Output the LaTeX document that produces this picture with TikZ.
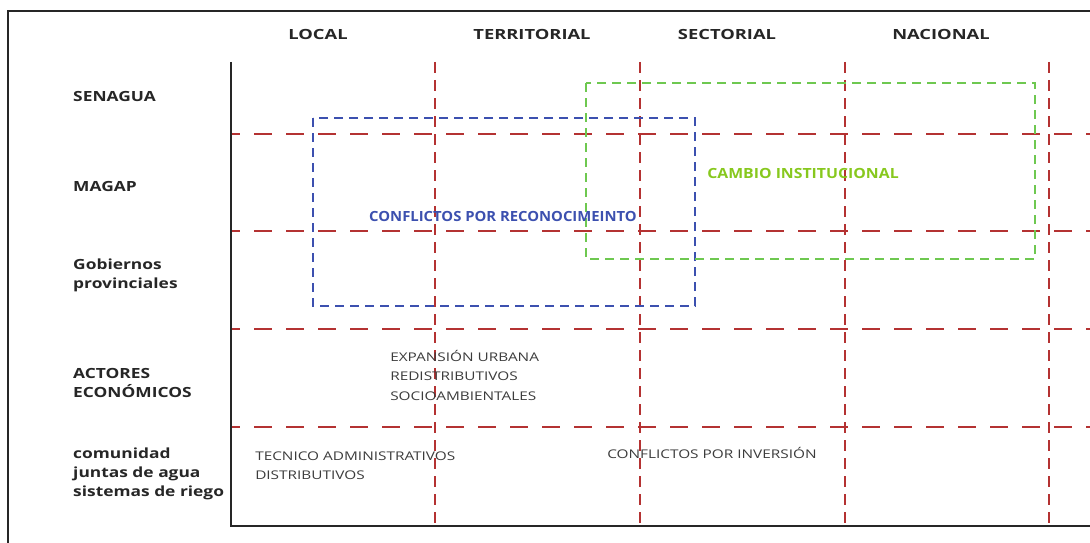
\documentclass[tikz,border=0pt]{standalone}
\usepackage{fontspec}
\setmainfont{Open Sans}
\definecolor{gridred}{RGB}{180,50,50}
\definecolor{boxblue}{RGB}{60,80,175}
\definecolor{boxgreen}{RGB}{110,200,80}
\definecolor{txtgreen}{RGB}{135,200,30}
\definecolor{txtgrey}{RGB}{60,60,60}
\begin{document}
\begin{tikzpicture}[x=1pt,y=-1pt,
  hdr/.style={font=\fontsize{14}{16}\selectfont\bfseries, text=black!85, inner sep=0pt, xscale=1.31},
  rowlab/.style={font=\fontsize{14}{19}\selectfont\bfseries, text=black!85, align=left, anchor=west, inner sep=0pt, xscale=1.24},
  cell/.style={font=\fontsize{12}{19.5}\selectfont, text=txtgrey, align=left, anchor=west, inner sep=0pt, xscale=1.28},
  boxlab/.style={inner sep=0pt, font=\fontsize{14}{16}\selectfont\bfseries},
  hgrid/.style={gridred, line width=1.6pt, dash pattern=on 18pt off 14pt, dash phase=9pt},
  vgrid/.style={gridred, line width=1.6pt, dash pattern=on 11pt off 7pt},
  bluebox/.style={boxblue, line width=1.5pt, dash pattern=on 9pt off 6pt},
  greenbox/.style={boxgreen, line width=1.5pt, dash pattern=on 9pt off 6pt},
  axis/.style={black!85, line width=1.8pt}]
\useasboundingbox (0,0) rectangle (1090,543);
% outer frame
\draw[axis] (8,543) -- (8,11) -- (1090,11);
% grid
\foreach \y in {134,231,329,427} \draw[hgrid] (231,\y) -- (1090,\y);
\foreach \x in {435,640,845,1049} \draw[vgrid] (\x,62) -- (\x,525);
% axes
\draw[axis] (231,62) -- (231,526) -- (1090,526);
% boxes
\draw[bluebox] (313,118) rectangle (695,306);
\draw[greenbox] (586,83) rectangle (1035,259);
% headers
\node[hdr] (hlocal) at (318,34) {LOCAL};
\node[hdr] (hterr) at (532,34) {TERRITORIAL};
\node[hdr] (hsect) at (727,34) {SECTORIAL};
\node[hdr] (hnac) at (941,34) {NACIONAL};
% row labels
\node[rowlab] (rsen) at (73,96) {SENAGUA};
\node[rowlab] (rmag) at (73,186) {MAGAP};
\node[rowlab] (rgob) at (73,275) {Gobiernos\\provinciales};
\node[rowlab] (ract) at (73,383) {ACTORES\\ECONÓMICOS};
\node[rowlab] (rcom) at (73,474) {comunidad\\juntas de agua\\sistemas de riego};
% cell texts
\node[cell] (cexp) at (390,375) {EXPANSIÓN URBANA\\REDISTRIBUTIVOS\\SOCIOAMBIENTALES};
\node[cell] (ctec) at (255,465.5) {TECNICO ADMINISTRATIVOS\\DISTRIBUTIVOS};
\node[cell] (cinv) at (607,453) {CONFLICTOS POR INVERSIÓN};
% box labels
\node[boxlab, text=boxblue, xscale=1.06] (lrec) at (503,216) {CONFLICTOS POR RECONOCIMEINTO};
\node[boxlab, text=txtgreen, xscale=1.13] (lcam) at (803,173) {CAMBIO INSTITUCIONAL};
\end{tikzpicture}
\end{document}
